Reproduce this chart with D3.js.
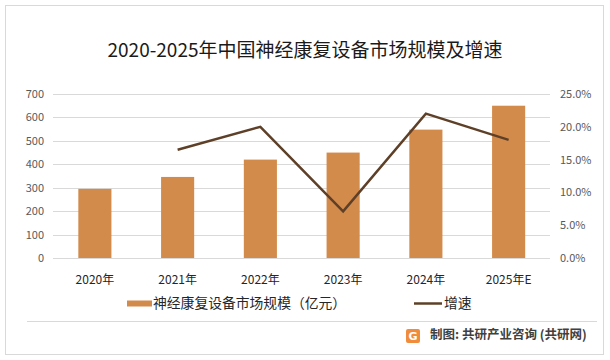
<!DOCTYPE html>
<html><head><meta charset="utf-8">
<script src="https://cdn.jsdelivr.net/npm/d3@7"></script>
<style>body{margin:0;background:#fff}svg{display:block}</style>
</head><body>
<svg id="c" width="610" height="360"></svg>
<script>
const categories = ["2020年","2021年","2022年","2023年","2024年","2025年E"];
const marketSize = [295, 346, 420, 450, 548, 650];
const growth = [null, 16.5, 20.0, 7.1, 22.0, 18.0];
const leftTicks = [0,100,200,300,400,500,600,700];
const rightTicks = [0,5,10,15,20,25];
const title = "2020-2025年中国神经康复设备市场规模及增速";
const legendBar = "神经康复设备市场规模（亿元）";
const legendLine = "增速";
const source = "制图: 共研产业咨询 (共研网)";

const font = "'Noto Sans CJK SC','Microsoft YaHei',sans-serif";
const svg = d3.select("#c");
svg.append("rect").attr("x",5.5).attr("y",5.5).attr("width",598).attr("height",349)
  .attr("fill","#fff").attr("stroke","#d9d9d9");

const x = d3.scaleBand().domain(categories).range([53.5,550]).paddingInner(0.6).paddingOuter(0.3);
const y = d3.scaleLinear().domain([0,700]).range([258,94]);
const y2 = d3.scaleLinear().domain([0,25]).range([258,94]);

// grid
svg.append("g").selectAll("line").data(leftTicks).join("line")
  .attr("x1",53).attr("x2",550).attr("y1",d=>Math.round(y(d))+0.5).attr("y2",d=>Math.round(y(d))+0.5)
  .attr("stroke","#d9d9d9").attr("stroke-width",1);

// left axis
const la = svg.append("g").attr("transform","translate(44,0)")
  .call(d3.axisLeft(y).tickValues(leftTicks).tickSize(0).tickPadding(0));
la.select(".domain").remove();
la.selectAll("text").attr("font-family",font).attr("font-size",11).attr("fill","#595959");

// right axis
const ra = svg.append("g").attr("transform","translate(560,0)")
  .call(d3.axisRight(y2).tickValues(rightTicks).tickSize(0).tickPadding(0).tickFormat(d=>d.toFixed(1)+"%"));
ra.select(".domain").remove();
ra.selectAll("text").attr("font-family",font).attr("font-size",11).attr("fill","#595959");

// bars
svg.append("g").selectAll("rect").data(marketSize).join("rect")
  .attr("x",(d,i)=>x(categories[i])).attr("width",x.bandwidth())
  .attr("y",d=>y(d)).attr("height",d=>y(0)-y(d)).attr("fill","#D38B4C");

// line
const line = d3.line().defined(d=>d!=null)
  .x((d,i)=>x(categories[i])+x.bandwidth()/2).y(d=>y2(d));
svg.append("path").datum(growth).attr("d",line).attr("fill","none")
  .attr("stroke","#5E4028").attr("stroke-width",2.5).attr("stroke-linejoin","miter");

// x axis labels
const xa = svg.append("g").attr("transform","translate(0,280)")
  .call(d3.axisBottom(x).tickSize(0).tickPadding(0));
xa.select(".domain").remove();
xa.selectAll("text").attr("font-family",font).attr("font-size",12).attr("fill","#262626").attr("dy","0.35em");

// title
svg.append("text").attr("x",305).attr("y",52).attr("text-anchor","middle").attr("dominant-baseline","middle")
  .attr("font-family",font).attr("font-size",19).attr("fill","#1a1a1a").text(title);

// legend
svg.append("rect").attr("x",127).attr("y",300.5).attr("width",25).attr("height",6).attr("fill","#D38B4C");
svg.append("text").attr("x",153).attr("y",304).attr("dominant-baseline","middle")
  .attr("font-family",font).attr("font-size",13.8).attr("fill","#262626").text(legendBar);
svg.append("line").attr("x1",414).attr("x2",442).attr("y1",303.5).attr("y2",303.5)
  .attr("stroke","#5E4028").attr("stroke-width",2.5);
svg.append("text").attr("x",444).attr("y",304).attr("dominant-baseline","middle")
  .attr("font-family",font).attr("font-size",13.8).attr("fill","#262626").text(legendLine);

// separator
svg.append("line").attr("x1",27).attr("x2",597).attr("y1",321.5).attr("y2",321.5).attr("stroke","#d9d9d9");

// logo
const lg = svg.append("g").attr("transform","translate(406,329)");
lg.append("rect").attr("width",14).attr("height",14).attr("rx",2).attr("fill","#F08C3C");
lg.append("text").attr("x",7).attr("y",7.5).attr("text-anchor","middle").attr("dominant-baseline","middle")
  .attr("font-family","'DejaVu Sans',sans-serif").attr("font-weight","bold").attr("font-size",11).attr("fill","#fff").text("G");

svg.append("text").attr("x",430).attr("y",335.5).attr("dominant-baseline","middle")
  .attr("font-family",font).attr("font-size",12.5).attr("font-weight","bold").attr("fill","#404040").text(source);
</script>
</body></html>
